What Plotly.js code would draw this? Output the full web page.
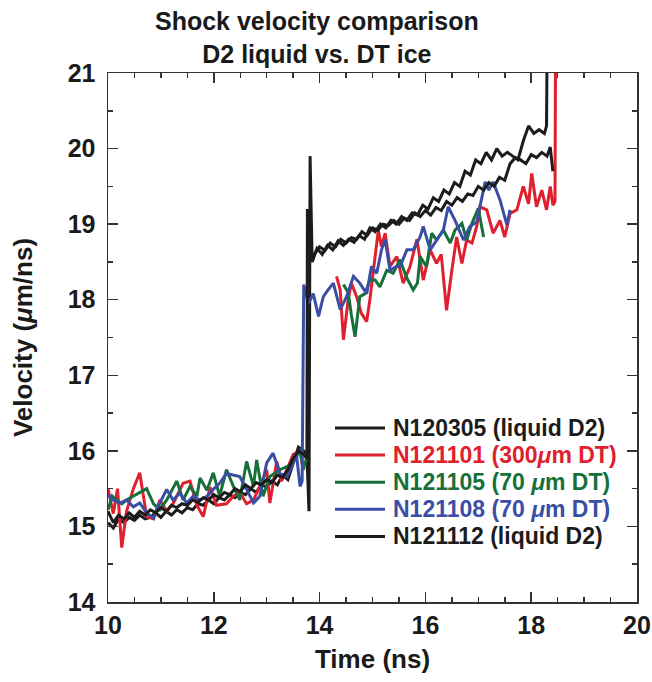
<!DOCTYPE html>
<html>
<head>
<meta charset="utf-8">
<script src="https://cdn.plot.ly/plotly-3.0.1.min.js"></script>
<style>html,body{margin:0;padding:0;background:#fff;}#chart{width:652px;height:682px;}</style>
</head>
<body>
<div id="chart"></div>
<script>
// ---- Data (time in ns, velocity in um/ns) ----
const seriesNames = [
  'N120305 (liquid D2)',
  'N121101 (300<i>μ</i>m DT)',
  'N121105 (70 <i>μ</i>m DT)',
  'N121108 (70 <i>μ</i>m DT)',
  'N121112 (liquid D2)'
];
const seriesColors = ['#1c1c1c', '#e0202e', '#17703a', '#3a4ea6', '#1c1c1c'];

// N120305 (liquid D2)
const t_N120305 = [10.0,10.1,10.2,10.3,10.4,10.5,10.6,10.7,10.8,10.9,11.0,11.1,11.2,11.3,11.4,11.5,11.6,11.7,11.8,11.9,12.0,12.1,12.2,12.3,12.4,12.5,12.6,12.7,12.8,12.9,13.0,13.1,13.2,13.3,13.4,13.5,13.6,13.7,13.76,13.8,13.82,13.86,
  13.95,14.05,14.15,14.25,14.35,14.45,14.55,14.65,14.75,14.85,14.95,15.05,15.15,15.25,15.35,15.45,15.55,15.65,15.75,15.85,15.95,16.05,16.15,16.25,16.35,16.45,16.55,16.65,16.75,16.85,16.95,17.05,17.15,17.25,17.35,17.45,17.55,17.65,17.75,17.85,17.95,18.05,18.15,18.25,18.29,18.3];
const v_N120305 = [15.05,14.98,15.1,15.05,15.12,15.08,15.15,15.1,15.12,15.18,15.12,15.2,15.15,15.22,15.18,15.25,15.22,15.3,15.28,15.35,15.3,15.38,15.35,15.42,15.38,15.45,15.42,15.5,15.45,15.55,15.52,15.6,15.55,15.68,15.62,15.85,16.05,16.0,15.95,15.2,19.9,18.5,
  18.68,18.6,18.72,18.66,18.78,18.72,18.8,18.76,18.85,18.8,18.95,18.9,19.0,18.95,19.05,19.0,19.1,19.05,19.15,19.12,19.25,19.2,19.35,19.3,19.45,19.4,19.55,19.5,19.7,19.65,19.85,19.8,19.95,19.85,20.0,19.9,19.95,19.9,19.85,20.1,20.3,20.2,20.25,20.2,20.3,21.3];

// N121101 (300um DT)
const t_N121101 = [10.0,10.1,10.18,10.26,10.35,10.48,10.6,10.73,10.86,10.98,11.11,11.23,11.42,11.55,11.68,11.8,11.93,12.05,12.24,12.37,12.49,12.62,12.75,12.87,13.0,13.06,13.19,13.28,13.38,13.5,13.63,13.69,null,
  14.32,14.39,14.45,14.54,14.6,14.7,14.79,14.89,14.95,15.05,15.11,15.17,15.24,15.33,15.46,15.58,15.71,15.84,15.96,16.09,16.21,16.3,16.4,16.5,16.59,16.69,16.78,16.88,16.97,17.03,17.16,17.28,17.41,17.5,17.6,17.73,17.85,17.95,18.01,18.1,18.2,18.29,18.36,18.41,18.45,18.46];
const v_N121101 = [15.5,15.17,15.5,14.72,15.2,15.5,15.71,15.13,15.1,15.35,15.2,15.3,15.57,15.6,15.28,15.13,15.52,15.28,15.3,15.4,15.45,15.3,15.35,15.53,15.75,15.31,15.86,15.6,15.75,15.95,16.0,15.75,null,
  18.31,18.13,17.47,18.0,18.22,18.04,17.82,17.71,18.0,18.57,18.92,18.7,18.88,18.44,18.57,18.22,18.44,18.8,18.26,18.66,18.48,18.6,17.86,18.39,18.83,18.48,18.79,18.75,18.97,19.23,19.19,18.88,19.05,18.83,19.14,19.19,19.5,19.27,19.67,19.23,19.45,19.19,19.5,19.25,19.3,21.3];

// N121105 (70 um DT)
const t_N121105 = [10.0,10.08,10.16,10.26,10.35,10.48,10.6,10.73,10.86,10.98,11.11,11.3,11.42,11.55,11.68,11.74,11.87,11.99,12.11,12.24,12.37,12.49,12.62,12.75,12.81,12.93,13.06,13.25,13.38,13.5,13.63,13.69,13.75,null,
  14.45,14.54,14.6,14.67,14.76,14.86,14.95,15.05,15.14,15.27,15.39,15.52,15.64,15.77,15.85,15.9,16.02,16.12,16.21,16.34,16.47,16.56,16.69,16.78,16.88,17.0,17.1];
const v_N121105 = [15.22,15.4,15.35,15.3,15.35,15.4,15.45,15.5,15.3,15.22,15.35,15.6,15.35,15.53,15.4,15.64,15.48,15.71,15.4,15.75,15.53,15.35,15.86,15.53,15.88,15.4,15.66,15.75,15.79,15.84,16.02,15.75,15.9,null,
  18.2,18.1,17.8,17.51,18.04,18.08,18.26,18.26,18.17,18.39,18.35,18.53,18.3,18.13,18.22,18.57,18.44,18.88,18.79,18.92,18.75,18.92,19.01,18.79,19.01,19.21,18.83];

// N121108 (70 um DT)
const t_N121108 = [10.0,10.1,10.22,10.35,10.48,10.6,10.73,10.86,10.98,11.11,11.23,11.36,11.49,11.61,11.74,11.87,11.99,12.11,12.24,12.37,12.49,12.62,12.75,12.87,13.0,13.12,13.25,13.38,13.47,13.56,13.63,13.67,13.7,13.79,13.88,13.98,14.07,14.16,14.26,14.39,14.51,14.64,14.76,14.89,14.98,15.08,15.17,15.24,15.33,15.45,15.52,15.65,15.77,15.9,15.96,16.09,16.21,16.34,16.43,16.56,16.72,16.84,16.97,17.06,17.13,17.2,17.28,17.41,17.54,17.6];
const v_N121108 = [15.42,15.35,15.31,15.35,15.26,15.31,15.18,15.11,15.31,15.49,15.35,15.44,15.31,15.4,15.35,15.4,15.49,15.57,15.7,15.68,15.66,15.49,15.31,15.4,15.84,15.97,15.7,15.66,15.79,15.97,15.53,15.6,18.2,17.95,18.08,17.78,18.04,18.13,18.22,17.87,18.04,18.31,18.22,18.08,18.44,18.35,18.66,18.79,18.39,18.44,18.44,18.66,18.66,18.83,18.97,18.66,18.79,18.92,19.23,19.05,18.79,18.97,19.03,19.32,19.56,19.45,19.56,19.32,18.99,19.19];

// N121112 (liquid D2)
const t_N121112 = [10.0,10.1,10.2,10.3,10.4,10.5,10.6,10.7,10.8,10.9,11.0,11.1,11.2,11.3,11.4,11.5,11.6,11.7,11.8,11.9,12.0,12.1,12.2,12.3,12.4,12.5,12.6,12.7,12.8,12.9,13.0,13.1,13.2,13.3,13.4,13.5,13.6,13.7,13.76,13.77,13.8,13.86,
  13.9,14.0,14.1,14.2,14.3,14.4,14.5,14.6,14.7,14.8,14.9,15.0,15.1,15.2,15.3,15.4,15.5,15.6,15.7,15.8,15.9,16.0,16.1,16.2,16.3,16.4,16.5,16.6,16.7,16.8,16.9,17.0,17.1,17.2,17.3,17.4,17.5,17.6,17.7,17.8,17.9,18.0,18.1,18.2,18.3,18.36,18.41];
const v_N121112 = [15.2,15.05,15.15,15.1,15.18,15.12,15.2,15.15,15.22,15.18,15.25,15.2,15.28,15.25,15.3,15.28,15.35,15.32,15.38,15.35,15.42,15.38,15.45,15.42,15.5,15.46,15.55,15.5,15.58,15.55,15.62,15.58,15.68,15.65,15.75,15.9,16.0,15.95,15.9,19.2,18.7,18.55,
  18.6,18.7,18.65,18.75,18.7,18.8,18.75,18.82,18.8,18.9,18.85,18.95,18.92,19.0,18.98,19.05,19.0,19.08,19.05,19.15,19.1,19.18,19.12,19.22,19.18,19.3,19.25,19.35,19.3,19.4,19.38,19.5,19.45,19.55,19.5,19.62,19.58,19.8,19.88,19.85,19.8,19.92,19.88,19.95,19.9,20.02,19.7];

const xs = [t_N120305, t_N121101, t_N121105, t_N121108, t_N121112];
const ys = [v_N120305, v_N121101, v_N121105, v_N121108, v_N121112];

const traces = xs.map((x, i) => ({
  x: x, y: ys[i], type: 'scatter', mode: 'lines', connectgaps: false,
  name: seriesNames[i],
  line: {color: seriesColors[i], width: 3}
}));

const fontMain = 'Liberation Sans, Arial, sans-serif';
const W = 652, H = 682, M = {l: 108, r: 15, t: 73, b: 80};
const plotW = W - M.l - M.r, plotH = H - M.t - M.b;
const px2x = p => (p - M.l) / plotW;
const px2y = p => (H - M.b - p) / plotH;

// Compact legend drawn with shapes + annotations (tighter row spacing than the built-in legend)
const legTop = 428, legStep = 27.1, legLine0 = 335, legLine1 = 385, legText = 391;
const shapes = [], annotations = [];
seriesNames.forEach((nm, i) => {
  const yy = px2y(legTop + i * legStep);
  shapes.push({type: 'line', xref: 'paper', yref: 'paper', x0: px2x(legLine0), x1: px2x(legLine1), y0: yy, y1: yy,
    line: {color: seriesColors[i], width: 3}});
  annotations.push({xref: 'paper', yref: 'paper', x: px2x(legText), y: yy, xanchor: 'left', yanchor: 'middle',
    text: nm, showarrow: false, font: {family: fontMain, size: 23, color: seriesColors[i], weight: 'bold'}});
});

const axisCommon = {
  showgrid: false, zeroline: false, showline: true, linecolor: '#333', linewidth: 1.5,
  mirror: 'ticks', ticks: 'inside', ticklen: 10, tickwidth: 1.5, tickcolor: '#333',
  tickfont: {family: fontMain, size: 25, color: '#1a1a1a', weight: 'bold'},
  minor: {ticks: 'inside', ticklen: 5, tickwidth: 1.5, tickcolor: '#333', dtick: 0.5}
};

const layout = {
  width: W, height: H,
  margin: M,
  paper_bgcolor: '#fff', plot_bgcolor: '#fff',
  showlegend: false,
  title: {
    text: 'Shock velocity comparison<br>D2 liquid vs. DT ice',
    font: {family: fontMain, size: 25, color: '#1a1a1a', weight: 'bold'},
    x: 0.486, xref: 'container', xanchor: 'center', y: 0.956, yref: 'container', yanchor: 'top'
  },
  xaxis: Object.assign({}, axisCommon, {
    range: [10, 20], dtick: 2, tick0: 10,
    title: {text: 'Time (ns)', standoff: 12, font: {family: fontMain, size: 26, color: '#1a1a1a', weight: 'bold'}}
  }),
  yaxis: Object.assign({}, axisCommon, {
    range: [14, 21], dtick: 1, tick0: 14, ticklabelstandoff: 6,
    title: {text: 'Velocity (<i>μ</i>m/ns)', standoff: 27, font: {family: fontMain, size: 26, color: '#1a1a1a', weight: 'bold'}}
  }),
  shapes: shapes,
  annotations: annotations
};

Plotly.newPlot('chart', traces, layout, {displayModeBar: false, staticPlot: true});
</script>
</body>
</html>
